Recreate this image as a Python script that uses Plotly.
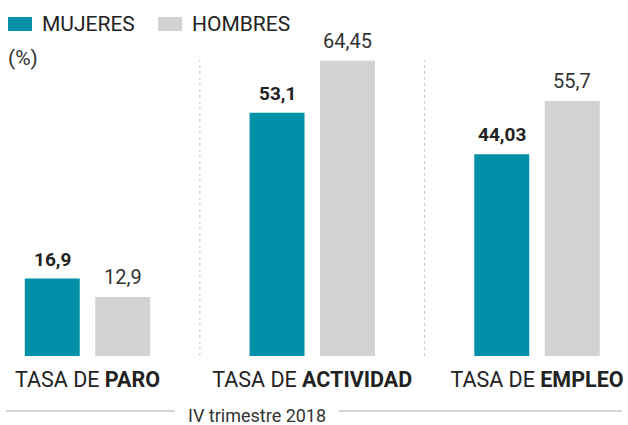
import plotly.graph_objects as go

categories = ["TASA DE PARO", "TASA DE ACTIVIDAD", "TASA DE EMPLEO"]
tick_text = ["TASA DE <b>PARO</b>", "TASA DE <b>ACTIVIDAD</b>", "TASA DE <b>EMPLEO</b>"]
mujeres = [16.9, 53.1, 44.03]
hombres = [12.9, 64.45, 55.7]
series_names = ["MUJERES", "HOMBRES"]
period_label = "IV trimestre 2018"
unit_label = "(%)"

TEAL = "#0091A8"
GREY = "#D1D2D4"
FONT = "Roboto, Arial, sans-serif"

W, H = 628, 425
L, R, T, B = 0, 0, 40, 69
pw, ph = W - L - R, H - T - B
def px(xp): return (xp - L) / pw
def py(yp): return (H - B - yp) / ph

def fmt(v):
    return f"{v:g}".replace(".", ",")

fig = go.Figure()
fig.add_trace(go.Bar(x=categories, y=mujeres, name=series_names[0], marker_color=TEAL,
                     marker_line_width=0, hoverinfo="skip"))
fig.add_trace(go.Bar(x=categories, y=hombres, name=series_names[1], marker_color=GREY,
                     marker_line_width=0, hoverinfo="skip"))

ann = []
for i, c in enumerate(categories):
    ann.append(dict(x=c, y=mujeres[i], xref="x", yref="y", text=f"<b>{fmt(mujeres[i])}</b>",
                    showarrow=False, xshift=-35.25, yshift=6, yanchor="bottom",
                    font=dict(family=FONT, size=19, color="#222")))
    ann.append(dict(x=c, y=hombres[i], xref="x", yref="y", text=fmt(hombres[i]),
                    showarrow=False, xshift=35.25, yshift=6, yanchor="bottom",
                    font=dict(family=FONT, size=20, color="#333")))

ann.append(dict(x=px(40), y=py(24), xref="paper", yref="paper", text=series_names[0], showarrow=False,
                xanchor="left", yanchor="middle", font=dict(family=FONT, size=21, color="#222")))
ann.append(dict(x=px(190), y=py(24), xref="paper", yref="paper", text=series_names[1], showarrow=False,
                xanchor="left", yanchor="middle", font=dict(family=FONT, size=21, color="#222")))
ann.append(dict(x=px(6), y=py(58), xref="paper", yref="paper", text=unit_label, showarrow=False,
                xanchor="left", yanchor="middle", font=dict(family=FONT, size=21, color="#333")))
ann.append(dict(x=px(257), y=py(415), xref="paper", yref="paper", text=period_label, showarrow=False,
                xanchor="center", yanchor="middle", font=dict(family=FONT, size=18, color="#333")))

shapes = [
    dict(type="rect", xref="paper", yref="paper", x0=px(8), x1=px(32), y0=py(31), y1=py(17),
         fillcolor=TEAL, line_width=0),
    dict(type="rect", xref="paper", yref="paper", x0=px(158), x1=px(182), y0=py(31), y1=py(17),
         fillcolor=GREY, line_width=0),
    dict(type="line", xref="x", yref="paper", x0=0.5, x1=0.5, y0=0, y1=py(60),
         line=dict(color="#c8c8c8", width=1, dash="dot")),
    dict(type="line", xref="x", yref="paper", x0=1.5, x1=1.5, y0=0, y1=py(60),
         line=dict(color="#c8c8c8", width=1, dash="dot")),
    dict(type="line", xref="paper", yref="paper", x0=px(6), x1=px(175), y0=py(411), y1=py(411),
         line=dict(color="#aaa", width=1)),
    dict(type="line", xref="paper", yref="paper", x0=px(339), x1=px(622), y0=py(411), y1=py(411),
         line=dict(color="#aaa", width=1)),
]

fig.update_layout(
    width=W, height=H,
    margin=dict(l=L, r=R, t=T, b=B),
    paper_bgcolor="white", plot_bgcolor="white",
    barmode="group", bargap=0.373, bargroupgap=0.22,
    showlegend=False,
    xaxis=dict(range=[-0.3893, 2.4049], tickvals=categories, ticktext=tick_text,
               showgrid=False, zeroline=False, showline=False, ticks="",
               ticklabelstandoff=8,
               tickfont=dict(family=FONT, size=21.5, color="#222")),
    yaxis=dict(range=[0, 69.0], visible=False, fixedrange=True),
    annotations=ann,
    shapes=shapes,
)

fig.write_html("out.html", config={"displayModeBar": False},
               post_script="document.body.style.margin='0px';")
